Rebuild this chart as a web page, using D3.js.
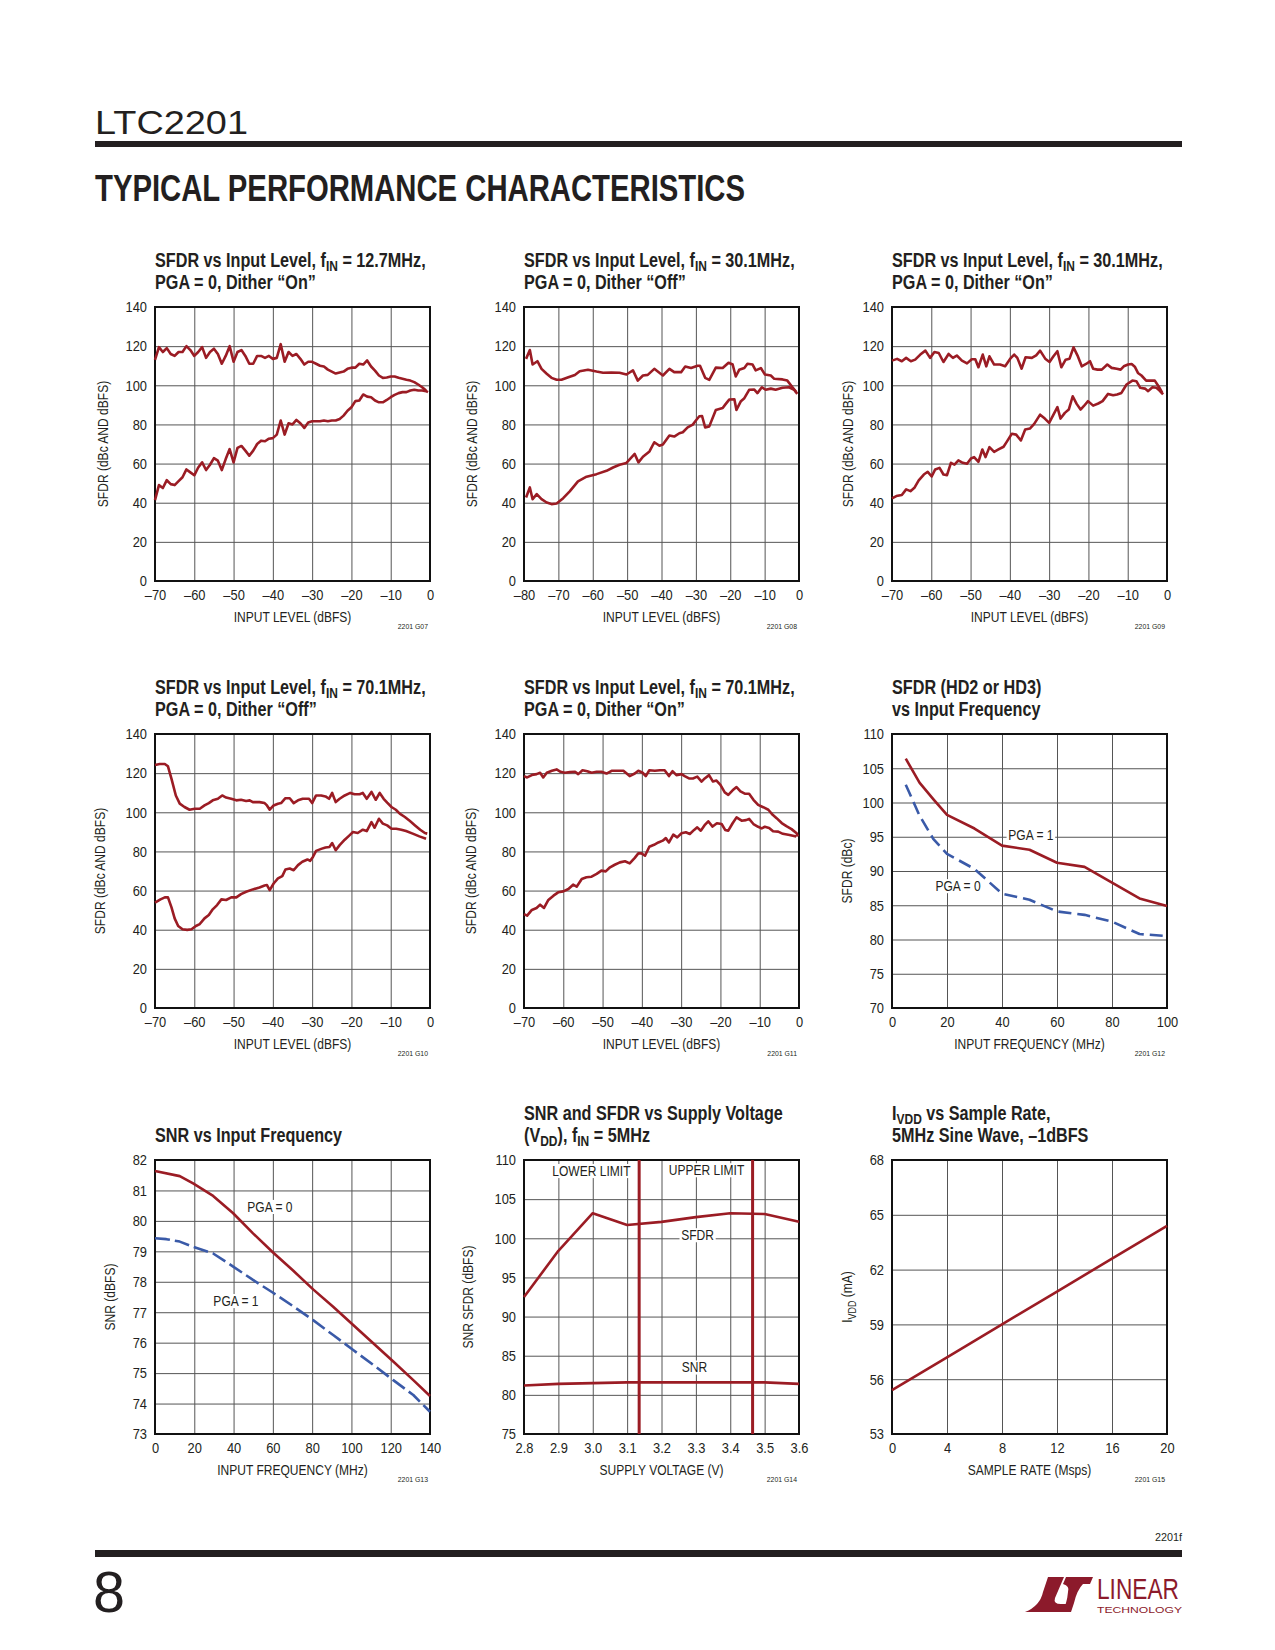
<!DOCTYPE html>
<html>
<head>
<meta charset="utf-8">
<script src="https://cdn.jsdelivr.net/npm/d3@7"></script>
<style>
  body { margin: 0; background: #fff; }
  svg { display: block; }
</style>
</head>
<body>
<svg id="page" width="1275" height="1650"></svg>
<script>
// ---- data (x, y pairs) ----
const g07Upper = [[-70,113],[-69,119.5],[-68,117],[-67,119],[-66,116],[-65,115],[-64,117],[-63,117],[-62,120],[-61,118],[-60,115],[-59,117],[-58,119.5],[-57,114],[-56,117],[-55,118.7],[-54,116],[-53,111],[-52,115],[-51,120],[-50,112],[-49,117],[-48,118],[-47,115],[-46,111],[-45,111],[-44,115],[-43,115],[-42,114],[-41,115],[-40,113.5],[-39,114],[-38,121],[-37,112],[-36,117],[-35,115],[-34,116],[-33,113.5],[-32,110.6],[-31,112],[-30,112],[-29,111],[-28,110],[-27,109.6],[-26,108],[-25,107],[-24,106],[-23,106.5],[-22,107],[-21,108.4],[-20,109],[-19,109],[-18,111],[-17,110.6],[-16,112.7],[-15,109.6],[-14,107.5],[-13,105],[-12,103.8],[-11,104],[-10,104.5],[-9,104.5],[-8,103.8],[-7,103.3],[-6,102.8],[-5,102.4],[-4,101.6],[-3,100.4],[-2,99],[-1,97.3]];
const g07Lower = [[-70,41.3],[-69,49],[-68,47.5],[-67,51.5],[-66,49.5],[-65,49],[-64,51],[-63,53],[-62,57],[-61,55.5],[-60,54],[-59,58],[-58,60.6],[-57,56.7],[-56,59.4],[-55,62.8],[-54,61.5],[-53,56.7],[-52,62.3],[-51,67.4],[-50,60.6],[-49,68],[-48,69],[-47,66.6],[-46,64],[-45,66.6],[-44,70],[-43,71.7],[-42,71.4],[-41,72.7],[-40,73],[-39,74.8],[-38,82],[-37,74.8],[-36,80.6],[-35,80],[-34,82.3],[-33,80.6],[-32,78.2],[-31,81],[-30,81.6],[-29,81.6],[-28,81.6],[-27,82],[-26,81.6],[-25,82],[-24,82],[-23,82.8],[-22,84.5],[-21,87],[-20,88.8],[-19,91.9],[-18,92.2],[-17,95.3],[-16,94.2],[-15,93.9],[-14,92.2],[-13,91.3],[-12,91.3],[-11,92.5],[-10,93.9],[-9,95.1],[-8,96],[-7,96.5],[-6,96.5],[-5,97.3],[-4,97.7],[-3,97.3],[-2,97.3],[-1,97],[-0.5,96.5]];

const g08Upper = [[-79.4,113.5],[-78.3,118],[-77.5,110.6],[-76.1,112.3],[-74.9,108.4],[-73.4,105.9],[-72,103.8],[-70.5,102.8],[-69.1,102.8],[-67.1,104.1],[-65.2,105.3],[-63.8,107.2],[-61.4,107.9],[-58.9,107],[-57,106.4],[-54.6,106.5],[-52.2,106.4],[-50.2,105.5],[-48.3,107.6],[-46.9,102.4],[-45.4,105],[-44,105.3],[-42.1,108.4],[-39.6,105],[-37.7,108.4],[-36.3,106.7],[-34.3,106.7],[-33.1,109.6],[-31.4,108.8],[-29.5,110],[-28.8,110],[-27.3,103.8],[-26.1,102.8],[-24.2,109],[-22.2,108.8],[-20.5,111.5],[-19.3,110.6],[-18.4,104.5],[-17.4,107.9],[-15.9,108.8],[-15,111],[-13.5,110.6],[-12.6,107.6],[-11.1,108.8],[-9.9,105.5],[-8.2,105],[-7.2,103.3],[-4.8,103],[-3.4,102.4],[-1.9,99],[-0.8,96.5]];
const g08Lower = [[-79.4,42.7],[-78.3,47.8],[-77.5,41.8],[-76.3,44.4],[-74.9,41.8],[-73.4,40.1],[-72,39.3],[-70.5,39.6],[-68.6,42.3],[-66.7,45.8],[-64.3,50.9],[-61.8,53.3],[-58.9,54.6],[-56,56.3],[-54.1,58],[-52.2,59.4],[-50.2,60.3],[-47.8,64.9],[-46.7,60.6],[-45.4,63.5],[-43.5,66.2],[-42.1,70.9],[-40.6,69.1],[-39.6,69.7],[-37.7,74.3],[-36.3,73.8],[-34.8,75.5],[-33.8,76],[-32.4,78.5],[-30.9,79.9],[-30,82],[-29,84.2],[-28.2,84.3],[-27.3,78.5],[-26.1,79],[-24.2,87.4],[-22.2,88.4],[-21.3,90.5],[-20.3,92.7],[-18.8,92.9],[-18.2,87.4],[-16.9,91.9],[-15.9,93.4],[-14.5,97.7],[-13,97.8],[-12.1,96],[-10.8,99],[-9.7,97.7],[-8.2,98.3],[-6.8,97.7],[-4.8,98.7],[-2.9,99],[-1.4,97.7],[-0.5,95.6]];

const g09Upper = [[-70,112.6],[-68.7,113.5],[-67.5,112.3],[-66.4,114],[-65.2,112.3],[-64.1,113.1],[-62.8,115.7],[-61.5,117.7],[-60.3,114],[-59.2,117],[-58.1,116.5],[-56.9,111.9],[-55.6,116],[-54.5,114],[-53.5,115.2],[-52.2,112.6],[-50.9,111.2],[-49.7,113.3],[-48.8,113.3],[-48,109.2],[-46.9,115.7],[-46,109.7],[-45.2,114.8],[-44,110.6],[-42.5,110.6],[-41.2,109.7],[-39.9,113.6],[-38.9,115.7],[-38.1,114],[-37,108.5],[-36,114.3],[-34.4,114],[-33.3,115.3],[-32.3,117.7],[-31,113.6],[-29.9,111.9],[-28.9,114.8],[-27.9,117.4],[-26.9,109.2],[-25.8,113.1],[-24.8,113.6],[-23.8,119.4],[-22.8,115.3],[-21.7,109.7],[-20.6,110.9],[-19.6,112.3],[-18.8,108.5],[-17.7,108],[-16.6,108],[-15.2,110.6],[-14.1,108.9],[-12.8,108.4],[-11.8,108],[-11,109.7],[-9.9,110.6],[-9,110.9],[-8.2,109.5],[-7.4,106.3],[-6.5,105],[-5.3,102.4],[-4.2,102.4],[-3.1,102.4],[-2,99],[-1.2,96.1]];
const g09Lower = [[-70,42.2],[-68.9,43.4],[-67.5,43.9],[-66.4,46.8],[-65.3,45.9],[-64.3,47.6],[-63.2,51.4],[-61.9,54.4],[-60.9,55.8],[-59.9,53.4],[-59,57],[-57.9,57.8],[-56.9,54.4],[-56,54.1],[-55,60.4],[-54.1,59.5],[-53.1,61.6],[-52,60.4],[-50.9,59.9],[-49.9,62.6],[-49.1,63.3],[-48,60.9],[-47,67.2],[-46.2,63.3],[-45.2,68.4],[-44,66],[-42.9,67.2],[-41.6,68.6],[-40.8,71.1],[-39.5,75.2],[-38.4,74.8],[-37.2,71.8],[-36.1,77.4],[-34.9,77.9],[-33.8,80.3],[-32.3,85],[-31.1,83],[-30,80.8],[-28.9,85],[-27.9,88.8],[-27.1,83],[-26,85.9],[-25,87.6],[-24,94.4],[-23,90.5],[-22,87.6],[-21.2,89.3],[-20.1,91.9],[-18.8,89.6],[-17.5,90.7],[-16.4,91.9],[-15,95.6],[-13.7,94.9],[-12.7,95.3],[-11.6,96.1],[-10.3,100.4],[-8.8,102.4],[-7.8,102.1],[-6.8,98.7],[-5.6,98.3],[-4.8,97],[-3.7,99],[-2.7,98.7],[-1.9,97.3],[-1,95.3]];

const g10Upper = [[-70,124.2],[-68.8,124.7],[-67.5,124.7],[-66.7,123.5],[-65.8,117.1],[-64.7,108.6],[-63.7,104.4],[-62.5,102.7],[-61.2,101.3],[-59.9,101.8],[-58.6,101.8],[-57.4,103.5],[-56.3,104.7],[-55.3,106.1],[-54,106.9],[-52.9,108.6],[-51.9,107.5],[-50.6,106.9],[-49.3,106.1],[-48.1,106.4],[-46.8,105.8],[-45.9,106.1],[-45.1,105.2],[-43.4,105.2],[-42.1,104.7],[-41.5,103.5],[-40.8,101.3],[-39.8,103.5],[-38.7,104.4],[-37.9,104.7],[-36.8,107.2],[-35.7,107.2],[-34.7,104.7],[-33.6,106.1],[-32.4,106.9],[-30.8,106.9],[-30,104.7],[-29,108.6],[-27.7,108.6],[-26.6,108.1],[-25.7,106.9],[-24.9,109.9],[-24,105.2],[-23,106.9],[-21.7,108.6],[-20.3,109.9],[-19.2,109.2],[-17.9,109.2],[-17.1,109.9],[-16.1,106.9],[-14.9,110.4],[-13.8,106.4],[-12.8,109.9],[-11.8,106.9],[-10.9,104.9],[-9.8,102.7],[-8.7,101.3],[-7.7,99.3],[-6.4,97.6],[-5.1,95.5],[-3.8,93.3],[-2.5,91.1],[-1.3,89.4],[-0.7,89.1]];
const g10Lower = [[-70,53.8],[-68.6,55.5],[-67.5,56.5],[-66.7,56.5],[-65.8,51.4],[-65,45.8],[-64.1,41.9],[-63,40.2],[-61.8,39.9],[-60.7,40.2],[-59.6,41.9],[-58.6,42.9],[-57.4,45.8],[-56.3,47.5],[-55.3,50.4],[-54.2,52.6],[-53.1,55.5],[-51.9,55.2],[-50.6,56.5],[-49.3,56.5],[-48.1,58.2],[-46.8,59.4],[-45.1,60.6],[-43.4,61.6],[-42.1,62.6],[-41.5,62.8],[-40.8,60.2],[-39.8,63.6],[-38.7,66.2],[-37.6,67.4],[-36.8,70.8],[-35.7,71.3],[-34.7,70.4],[-33.6,73],[-32.5,74.7],[-31.2,75.9],[-30.5,75.2],[-29.8,77.2],[-29,80.3],[-27.7,81.3],[-26.6,82],[-25.6,82.3],[-24.9,84.3],[-24,80.6],[-23,83.2],[-21.7,86],[-20.5,88.2],[-19.6,89.9],[-18.4,89.4],[-17.1,91.1],[-16.1,90.4],[-14.9,95],[-14.1,92.1],[-13,96.7],[-12,94.2],[-10.9,93.3],[-9.8,91.6],[-8.6,91.6],[-7.3,91.1],[-6.1,90.4],[-4.4,89.1],[-2.7,87.7],[-1,86.5]];

const g11Upper = [[-70,118.5],[-69.2,117.8],[-68,119],[-66.8,119.5],[-65.9,120.2],[-65.1,117.8],[-64.2,120.2],[-62.9,121.2],[-61.7,121.9],[-60.7,120.7],[-59.6,120.2],[-58.3,120.5],[-57,120.7],[-56.2,119.5],[-55.1,121.5],[-53.9,121],[-52.8,120.2],[-51.5,120.7],[-50.3,120.7],[-49,119.8],[-47.7,121.2],[-46.4,121.2],[-44.7,121.2],[-43.1,118.5],[-41.8,119.8],[-40.9,121.2],[-39.8,120.2],[-39,118.5],[-38.1,121.5],[-36.7,121.2],[-35.4,121.5],[-34.2,121.5],[-33.1,118.5],[-32.2,121],[-31.2,119],[-29.9,119.5],[-29.1,118.5],[-28,117.3],[-27,117.3],[-25.9,118.2],[-24.8,115.7],[-24,117.3],[-22.9,119],[-21.9,115.7],[-21,116.2],[-20,114],[-18.9,110.2],[-18,108.9],[-16.9,111.2],[-15.9,112.9],[-14.9,110.7],[-13.8,109.5],[-12.7,109.5],[-11.6,106.4],[-10.4,103.8],[-9.1,102.6],[-7.8,101.3],[-6.7,98.7],[-5.7,97],[-4.4,94.5],[-3.1,92.8],[-1.9,91.4],[-0.6,89.3],[-0.3,87.6]];
const g11Lower = [[-70,48],[-69.2,47.2],[-68,50.1],[-66.8,51.1],[-65.9,52.8],[-64.9,51.1],[-63.8,55.2],[-62.5,57.4],[-61.3,59.1],[-60,59.6],[-58.7,60.8],[-57.5,63],[-56.6,62],[-55.3,65.9],[-54.1,66.8],[-52.8,67.1],[-51.5,68.5],[-50.3,70.2],[-49.2,69.8],[-48.1,71.9],[-46.9,73.2],[-45.6,74.4],[-44.3,75],[-43.1,73.9],[-41.8,76.7],[-40.9,79],[-40.1,79],[-39.2,77.8],[-38.1,82.4],[-36.9,83.4],[-35.8,84.6],[-34.7,85.5],[-33.9,86.8],[-33.1,84.6],[-32,88.6],[-31,87.2],[-29.9,89.3],[-28.8,89.8],[-27.8,88.9],[-26.7,91],[-25.9,92.3],[-25,90.6],[-23.9,93.7],[-23.1,95.4],[-22,92.7],[-20.9,94.4],[-19.7,94],[-18.8,91],[-18,90.6],[-16.9,94.4],[-15.9,97.4],[-14.6,95.7],[-13.5,96],[-12.7,96.6],[-11.6,94],[-10.4,92.6],[-9.5,91.8],[-8.7,92.6],[-7.6,92],[-6.6,90.3],[-5.3,90.1],[-4.1,89],[-2.4,88.4],[-0.7,87.6]];

const g12Pga1 = [[5,106.4],[10,102.9],[15,100.5],[20,98.2],[30,96.2],[40,93.7],[50,93.1],[60,91.2],[70,90.6],[80,88.3],[90,86],[100,84.9]];
const g12Pga0 = [[5,102.6],[10,98.1],[15,94.7],[20,92.5],[30,90.3],[40,86.7],[50,85.8],[60,84.1],[70,83.6],[80,82.6],[90,80.8],[100,80.5]];

const g13Pga0 = [[0,81.64],[12.6,81.47],[19.4,81.23],[29.6,80.82],[39.8,80.25],[49.9,79.59],[60.1,78.96],[70.3,78.37],[80.5,77.75],[90.7,77.18],[100.9,76.58],[111.1,75.98],[121.3,75.38],[131.5,74.77],[140,74.25]];
const g13Pga1 = [[0,79.43],[5.8,79.4],[12.6,79.32],[19.4,79.15],[29.6,78.93],[39.8,78.5],[49.9,78.06],[60.1,77.64],[70.3,77.2],[80.5,76.74],[90.7,76.25],[100.9,75.76],[111.1,75.27],[121.3,74.77],[131.5,74.28],[140,73.73]];

const g14Sfdr = [[2.8,92.5],[2.9,98.4],[3.0,103.2],[3.1,101.7],[3.2,102.1],[3.3,102.7],[3.4,103.2],[3.5,103.1],[3.6,102.1]];
const g14Snr = [[2.8,81.2],[2.9,81.4],[3.0,81.5],[3.1,81.6],[3.2,81.6],[3.3,81.6],[3.4,81.6],[3.5,81.6],[3.6,81.4]];
const g14Limits = [3.135, 3.465];

const g15Ivdd = [[0,55.4],[4,57.2],[8,59.0],[12,60.8],[16,62.6],[20,64.4]];

// tick values
const levelTicks70 = [-70,-60,-50,-40,-30,-20,-10,0];
const levelTicks80 = [-80,-70,-60,-50,-40,-30,-20,-10,0];
const sfdrTicks = [0,20,40,60,80,100,120,140];
const freqTicks100 = [0,20,40,60,80,100];
const sfdrFreqTicks = [70,75,80,85,90,95,100,105,110];
const freqTicks140 = [0,20,40,60,80,100,120,140];
const snrTicks = [73,74,75,76,77,78,79,80,81,82];
const vddTicks = [2.8,2.9,3.0,3.1,3.2,3.3,3.4,3.5,3.6];
const snrSfdrTicks = [75,80,85,90,95,100,105,110];
const rateTicks = [0,4,8,12,16,20];
const ivddTicks = [53,56,59,62,65,68];

const RED = '#9b1c24', BLUE = '#3a5aa8', INK = '#231f20';
const FONT = "'Liberation Sans',Arial,sans-serif";
const SX = 0.86;      // squeeze for the condensed regular face
const SX_BOLD = 0.81; // squeeze for the condensed bold titles

const svg = d3.select('#page');

// page furniture
svg.append('text').attr('x', 95).attr('y', 134).attr('font-family', FONT)
  .attr('font-size', 33).attr('fill', INK).attr('textLength', 153).attr('lengthAdjust', 'spacingAndGlyphs')
  .text('LTC2201');
svg.append('rect').attr('x', 95).attr('y', 141).attr('width', 1087).attr('height', 6).attr('fill', INK);
svg.append('text').attr('x', 95).attr('y', 201).attr('font-family', FONT).attr('font-weight', 'bold')
  .attr('font-size', 36).attr('fill', INK).attr('textLength', 650).attr('lengthAdjust', 'spacingAndGlyphs')
  .text('TYPICAL PERFORMANCE CHARACTERISTICS');

svg.append('text').attr('x', 1182).attr('y', 1541).attr('text-anchor', 'end').attr('font-family', FONT)
  .attr('font-size', 11).attr('fill', INK).attr('textLength', 27).attr('lengthAdjust', 'spacingAndGlyphs').text('2201f');
svg.append('rect').attr('x', 95).attr('y', 1550).attr('width', 1087).attr('height', 7).attr('fill', INK);
svg.append('text').attr('x', 93).attr('y', 1612).attr('font-family', FONT)
  .attr('font-size', 58).attr('fill', INK).attr('textLength', 32).attr('lengthAdjust', 'spacingAndGlyphs').text('8');

// logo
const logo = svg.append('g').attr('fill', '#8c1a2b');
logo.append('path').attr('d', 'M1048,1577 L1064,1577 L1055,1598 Q1053,1604 1061,1604 L1071,1604 L1067,1612 L1025,1612 Q1040,1606 1043,1592 Z');
logo.append('path').attr('d', 'M1066,1577 L1093,1577 L1090,1584 L1083,1584 Q1077,1590 1074,1603 L1071,1612 L1062,1612 Q1067,1604 1068,1592 Q1070,1586 1063,1584 Z');
logo.append('text').attr('x', 1097).attr('y', 1599).attr('font-family', FONT).attr('font-size', 29)
  .attr('textLength', 82).attr('lengthAdjust', 'spacingAndGlyphs').text('LINEAR');
logo.append('text').attr('x', 1097).attr('y', 1613).attr('font-family', FONT).attr('font-size', 9.5)
  .attr('textLength', 85).attr('lengthAdjust', 'spacingAndGlyphs').text('TECHNOLOGY');

function rich(text, segs, size) {
  let shifted = false;
  segs.forEach(s => {
    const t = text.append('tspan').text(s.t);
    if (s.sub) { t.attr('font-size', size * 0.74).attr('dy', 4); shifted = true; }
    else if (shifted) { t.attr('dy', -4); shifted = false; }
  });
}

function chart(c) {
  const w = 275, h = 274;
  const g = svg.append('g').attr('transform', `translate(${c.left},${c.top})`);
  const x = d3.scaleLinear().domain(c.xDomain).range([0, w]);
  const y = d3.scaleLinear().domain(c.yDomain).range([h, 0]);

  // title
  c.title.forEach((line, i) => {
    const t = g.append('text')
      .attr('transform', `translate(0,${-18 - (c.title.length - 1 - i) * 22}) scale(${SX_BOLD},1)`)
      .attr('font-family', FONT).attr('font-weight', 'bold').attr('font-size', 20).attr('fill', INK);
    rich(t, line, 20);
  });

  // grid
  g.append('g').attr('class', 'grid').attr('transform', `translate(0,${h})`)
    .call(d3.axisBottom(x).tickValues(c.xTicks).tickSize(-h).tickFormat(''));
  g.append('g').attr('class', 'grid')
    .call(d3.axisLeft(y).tickValues(c.yTicks).tickSize(-w).tickFormat(''));
  g.selectAll('.grid .domain').remove();
  g.selectAll('.grid line').attr('stroke', '#555').attr('stroke-width', 1);

  // tick labels
  const xa = g.append('g').attr('transform', `translate(0,${h})`)
    .call(d3.axisBottom(x).tickValues(c.xTicks).tickSize(0).tickPadding(8)
      .tickFormat(c.xFmt || (d => d < 0 ? '\u2013' + (-d) : d)));
  const ya = g.append('g')
    .call(d3.axisLeft(y).tickValues(c.yTicks).tickSize(0).tickPadding(7));
  [xa, ya].forEach(a => {
    a.select('.domain').remove();
    a.selectAll('text').attr('font-family', FONT).attr('font-size', 15).attr('fill', INK)
      .attr('transform', `scale(${SX},1)`);
  });
  ya.selectAll('text').attr('x', -8 / SX);

  // frame
  g.append('rect').attr('width', w).attr('height', h).attr('fill', 'none')
    .attr('stroke', '#111').attr('stroke-width', 2);

  // extra vertical markers
  (c.vlines || []).forEach(v => {
    g.append('line').attr('x1', x(v)).attr('x2', x(v)).attr('y1', 0).attr('y2', h)
      .attr('stroke', RED).attr('stroke-width', 3);
  });

  // labels on white patches
  (c.labels || []).forEach(l => {
    const px = x(l.x), py = y(l.y);
    const t = g.append('text').attr('transform', `translate(${px},${py}) scale(${SX},1)`).attr('dy', '0.35em')
      .attr('text-anchor', 'middle').attr('font-family', FONT).attr('font-size', 14).attr('fill', INK)
      .text(l.t);
    const b = t.node().getBBox();
    g.insert('rect', () => t.node()).attr('x', px + (b.x - 2) * SX).attr('y', py + b.y + 1)
      .attr('width', (b.width + 4) * SX).attr('height', b.height - 2).attr('fill', '#fff');
  });

  // series
  const line = d3.line().x(d => x(d[0])).y(d => y(d[1]));
  c.series.forEach(s => {
    g.append('path').datum(s.data).attr('d', line).attr('fill', 'none')
      .attr('stroke', s.color || RED).attr('stroke-width', 2.6).attr('stroke-linejoin', 'round')
      .attr('stroke-dasharray', s.dash || null);
  });

  // axis titles
  g.append('text').attr('transform', `translate(${w / 2},${h + 41}) scale(${SX},1)`).attr('text-anchor', 'middle')
    .attr('font-family', FONT).attr('font-size', 14).attr('fill', INK).text(c.xLabel);
  const yl = g.append('text').attr('transform', `translate(${-c.yOff},${h / 2}) rotate(-90) scale(${SX},1)`)
    .attr('text-anchor', 'middle').attr('dy', '0.35em')
    .attr('font-family', FONT).attr('font-size', 14).attr('fill', INK);
  rich(yl, c.yLabel, 14);
  g.append('text').attr('transform', `translate(${w - 2},${h + 48}) scale(${SX},1)`).attr('text-anchor', 'end')
    .attr('font-family', FONT).attr('font-size', 8).attr('fill', INK).text(c.code);
}

const sfdrLabel = [{ t: 'SFDR (dBc AND dBFS)' }];
const cols = [155, 524, 892];
const rows = [307, 734, 1160];

chart({ left: cols[0], top: rows[0], xDomain: [-70, 0], yDomain: [0, 140], xTicks: levelTicks70, yTicks: sfdrTicks,
  title: [[{ t: 'SFDR vs Input Level, f' }, { t: 'IN', sub: true }, { t: ' = 12.7MHz,' }], [{ t: 'PGA = 0, Dither \u201cOn\u201d' }]],
  xLabel: 'INPUT LEVEL (dBFS)', yLabel: sfdrLabel, yOff: 52, code: '2201 G07',
  series: [{ data: g07Upper }, { data: g07Lower }] });

chart({ left: cols[1], top: rows[0], xDomain: [-80, 0], yDomain: [0, 140], xTicks: levelTicks80, yTicks: sfdrTicks,
  title: [[{ t: 'SFDR vs Input Level, f' }, { t: 'IN', sub: true }, { t: ' = 30.1MHz,' }], [{ t: 'PGA = 0, Dither \u201cOff\u201d' }]],
  xLabel: 'INPUT LEVEL (dBFS)', yLabel: sfdrLabel, yOff: 52, code: '2201 G08',
  series: [{ data: g08Upper }, { data: g08Lower }] });

chart({ left: cols[2], top: rows[0], xDomain: [-70, 0], yDomain: [0, 140], xTicks: levelTicks70, yTicks: sfdrTicks,
  title: [[{ t: 'SFDR vs Input Level, f' }, { t: 'IN', sub: true }, { t: ' = 30.1MHz,' }], [{ t: 'PGA = 0, Dither \u201cOn\u201d' }]],
  xLabel: 'INPUT LEVEL (dBFS)', yLabel: sfdrLabel, yOff: 44, code: '2201 G09',
  series: [{ data: g09Upper }, { data: g09Lower }] });

chart({ left: cols[0], top: rows[1], xDomain: [-70, 0], yDomain: [0, 140], xTicks: levelTicks70, yTicks: sfdrTicks,
  title: [[{ t: 'SFDR vs Input Level, f' }, { t: 'IN', sub: true }, { t: ' = 70.1MHz,' }], [{ t: 'PGA = 0, Dither \u201cOff\u201d' }]],
  xLabel: 'INPUT LEVEL (dBFS)', yLabel: sfdrLabel, yOff: 55, code: '2201 G10',
  series: [{ data: g10Upper }, { data: g10Lower }] });

chart({ left: cols[1], top: rows[1], xDomain: [-70, 0], yDomain: [0, 140], xTicks: levelTicks70, yTicks: sfdrTicks,
  title: [[{ t: 'SFDR vs Input Level, f' }, { t: 'IN', sub: true }, { t: ' = 70.1MHz,' }], [{ t: 'PGA = 0, Dither \u201cOn\u201d' }]],
  xLabel: 'INPUT LEVEL (dBFS)', yLabel: sfdrLabel, yOff: 53, code: '2201 G11',
  series: [{ data: g11Upper }, { data: g11Lower }] });

chart({ left: cols[2], top: rows[1], xDomain: [0, 100], yDomain: [70, 110], xTicks: freqTicks100, yTicks: sfdrFreqTicks,
  title: [[{ t: 'SFDR (HD2 or HD3)' }], [{ t: 'vs Input Frequency' }]],
  xLabel: 'INPUT FREQUENCY (MHz)', yLabel: [{ t: 'SFDR (dBc)' }], yOff: 45, code: '2201 G12',
  labels: [{ t: 'PGA = 1', x: 50.5, y: 95.2 }, { t: 'PGA = 0', x: 24, y: 87.8 }],
  series: [{ data: g12Pga1 }, { data: g12Pga0, color: BLUE, dash: '13,6' }] });

chart({ left: cols[0], top: rows[2], xDomain: [0, 140], yDomain: [73, 82], xTicks: freqTicks140, yTicks: snrTicks,
  title: [[{ t: 'SNR vs Input Frequency' }]],
  xLabel: 'INPUT FREQUENCY (MHz)', yLabel: [{ t: 'SNR (dBFS)' }], yOff: 45, code: '2201 G13',
  labels: [{ t: 'PGA = 0', x: 58.5, y: 80.46 }, { t: 'PGA = 1', x: 41.2, y: 77.37 }],
  series: [{ data: g13Pga0 }, { data: g13Pga1, color: BLUE, dash: '15,5' }] });

chart({ left: cols[1], top: rows[2], xDomain: [2.8, 3.6], yDomain: [75, 110], xTicks: vddTicks, yTicks: snrSfdrTicks,
  xFmt: d3.format('.1f'),
  title: [[{ t: 'SNR and SFDR vs Supply Voltage' }], [{ t: '(V' }, { t: 'DD', sub: true }, { t: '), f' }, { t: 'IN', sub: true }, { t: ' = 5MHz' }]],
  xLabel: 'SUPPLY VOLTAGE (V)', yLabel: [{ t: 'SNR SFDR (dBFS)' }], yOff: 56, code: '2201 G14',
  vlines: g14Limits,
  labels: [{ t: 'LOWER LIMIT', x: 2.996, y: 108.6 }, { t: 'UPPER LIMIT', x: 3.331, y: 108.7 },
    { t: 'SFDR', x: 3.305, y: 100.4 }, { t: 'SNR', x: 3.296, y: 83.5 }],
  series: [{ data: g14Sfdr }, { data: g14Snr }] });

chart({ left: cols[2], top: rows[2], xDomain: [0, 20], yDomain: [53, 68], xTicks: rateTicks, yTicks: ivddTicks,
  title: [[{ t: 'I' }, { t: 'VDD', sub: true }, { t: ' vs Sample Rate,' }], [{ t: '5MHz Sine Wave, \u20131dBFS' }]],
  xLabel: 'SAMPLE RATE (Msps)', yLabel: [{ t: 'I' }, { t: 'VDD', sub: true }, { t: ' (mA)' }], yOff: 45, code: '2201 G15',
  series: [{ data: g15Ivdd }] });
</script>
</body>
</html>
